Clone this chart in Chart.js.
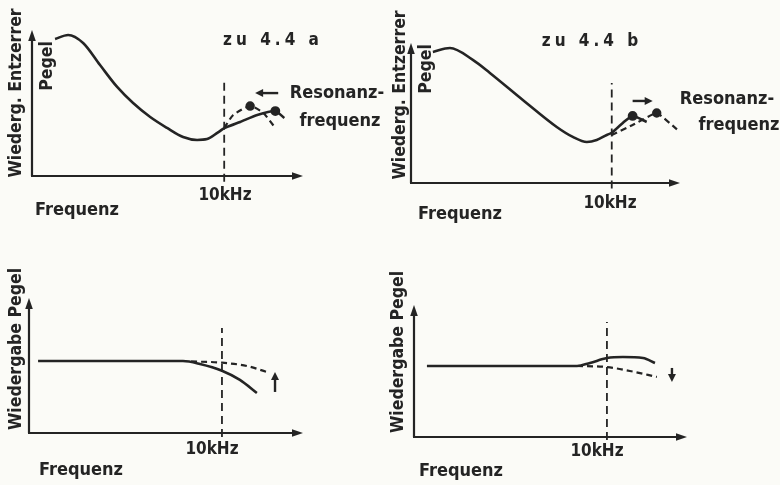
<!DOCTYPE html>
<html>
<head>
<meta charset="utf-8">
<script src="https://cdn.jsdelivr.net/npm/chart.js@4.4.1/dist/chart.umd.min.js"></script>
<style>
  body { margin: 0; background: #fbfbf7; }
  #wrap { position: relative; width: 780px; height: 485px; overflow: hidden; }
  canvas { position: absolute; }
  .t {
    position: absolute; transform: translate(-50%, -50%); white-space: nowrap; color: #242424;
    font-family: "DejaVu Sans Condensed", "Liberation Sans Narrow", "DejaVu Sans", sans-serif;
    font-stretch: condensed; font-weight: bold; font-size: 18px; line-height: 1;
  }
  .r { transform: translate(-50%, -50%) rotate(-90deg); font-size: 17.5px; }
  .k { font-size: 17px; }
  .z { font-size: 17px; letter-spacing: 4px; }
</style>
</head>
<body>
<div id="wrap">
  <canvas id="cA" width="390" height="243" style="left:0;top:0"></canvas>
  <canvas id="cB" width="390" height="243" style="left:390px;top:0"></canvas>
  <canvas id="cC" width="390" height="242" style="left:0;top:243px"></canvas>
  <canvas id="cD" width="390" height="242" style="left:390px;top:243px"></canvas>

  <div class="t z" style="left:273px;top:39px">zu 4.4 a</div>
  <div class="t" style="left:337px;top:92px">Resonanz-</div>
  <div class="t" style="left:340px;top:120px">frequenz</div>
  <div class="t k" style="left:225px;top:194px">10kHz</div>
  <div class="t" style="left:77px;top:209px">Frequenz</div>
  <div class="t r" style="left:16px;top:93px">Wiederg. Entzerrer</div>
  <div class="t r" style="left:47px;top:66px">Pegel</div>

  <div class="t z" style="left:592px;top:40px">zu 4.4 b</div>
  <div class="t" style="left:727px;top:98px">Resonanz-</div>
  <div class="t" style="left:739px;top:124px">frequenz</div>
  <div class="t k" style="left:610px;top:202px">10kHz</div>
  <div class="t" style="left:460px;top:213px">Frequenz</div>
  <div class="t r" style="left:400px;top:95px">Wiederg. Entzerrer</div>
  <div class="t r" style="left:426px;top:69px">Pegel</div>

  <div class="t k" style="left:212px;top:448px">10kHz</div>
  <div class="t" style="left:81px;top:469px">Frequenz</div>
  <div class="t r" style="left:16px;top:349px">Wiedergabe Pegel</div>

  <div class="t k" style="left:597px;top:450px">10kHz</div>
  <div class="t" style="left:461px;top:470px">Frequenz</div>
  <div class="t r" style="left:398px;top:352px">Wiedergabe Pegel</div>
</div>

<script>
const INK = "#242424";

// zu 4.4 a : Entzerrer-Kurve, Resonanz wandert nach unten
const aMainX = [1.2, 1.88, 2.66, 3.54, 4.43, 5.26, 6.15, 7.03, 7.86, 8.59, 9.11, 9.64, 10];
const aMainY = [93.8, 96.6, 91.1, 76.0, 61.0, 50.0, 40.4, 32.9, 26.7, 24.7, 25.3, 29.5, 32.9];
const aSolidX = [10, 10.83, 11.72, 12.66, 13.13];
const aSolidY = [32.9, 37.0, 41.8, 44.5, 39.7];
const aDashX = [10, 10.47, 11.35, 12.03, 12.66];
const aDashY = [32.9, 41.8, 47.9, 43.2, 32.9];
const aArrow = [12.81, 56.8, 11.61, 56.8];

// zu 4.4 b : Resonanz wandert nach oben
const bMainX = [1.09, 1.94, 3.08, 3.93, 5.57, 7.26, 8.06, 8.76, 9.25, 9.75, 10];
const bMainY = [93.6, 96.4, 87.9, 78.6, 59.3, 40.0, 32.9, 29.3, 30.7, 34.3, 35.7];
const bSolidX = [10, 10.55, 11.04, 11.74];
const bSolidY = [35.7, 42.9, 47.9, 43.6];
const bDashX = [10, 11.04, 12.24, 13.28];
const bDashY = [34.3, 41.4, 50.0, 37.9];
const bArrow = [11.04, 58.6, 12.04, 58.6];

// Wiedergabe a
const cSolidX = [0.47, 7.98, 8.86, 10, 10.93, 11.81];
const cSolidY = [53.3, 53.3, 51.1, 46.1, 39.3, 29.6];
const cDashX = [8.4, 10, 11.3, 12.33];
const cDashY = [53.0, 52.1, 49.6, 45.2];
const cArrow = [12.75, 30.4, 12.75, 45.2];

// Wiedergabe b
const dSolidX = [0.67, 8.45, 9.12, 10, 10.83, 11.87, 12.49];
const dSolidY = [53.8, 53.8, 56.1, 59.8, 60.6, 59.8, 56.1];
const dDashX = [8.45, 10, 11.19, 12.59];
const dDashY = [53.8, 53.0, 50.0, 45.5];
const dArrow = [13.37, 52.3, 13.37, 41.7];

// 10 kHz marker: [x, bottom, top]
const markA = [10, -4, 67];
const markB = [10, -4, 71.4];
const markC = [10, -3, 77.8];
const markD = [10, -2.3, 87.1];

function pts(xs, ys) {
  return xs.map((x, i) => ({ x: x, y: ys[i] }));
}

function head(ctx, x, y, dx, dy, len, w) {
  ctx.beginPath();
  ctx.moveTo(x, y);
  ctx.lineTo(x - dx * len - dy * w, y - dy * len + dx * w);
  ctx.lineTo(x - dx * len + dy * w, y - dy * len - dx * w);
  ctx.closePath();
  ctx.fill();
}

// axes with arrow heads + small annotation arrows
const axesArrows = {
  id: "axesArrows",
  afterDatasetsDraw(chart, args, opts) {
    const ctx = chart.ctx;
    const a = chart.chartArea;
    const sx = chart.scales.x, sy = chart.scales.y;
    ctx.save();
    ctx.strokeStyle = INK;
    ctx.fillStyle = INK;
    ctx.lineWidth = 2.2;
    ctx.beginPath();
    ctx.moveTo(a.left, a.bottom);
    ctx.lineTo(a.left, a.top + 6);
    ctx.moveTo(a.left - 1, a.bottom);
    ctx.lineTo(a.right - 6, a.bottom);
    ctx.stroke();
    head(ctx, a.left, a.top, 0, -1, 11, 3.8);
    head(ctx, a.right, a.bottom, 1, 0, 11, 3.8);

    const ar = opts.arrow;
    if (ar) {
      const x1 = sx.getPixelForValue(ar[0]), y1 = sy.getPixelForValue(ar[1]);
      const x2 = sx.getPixelForValue(ar[2]), y2 = sy.getPixelForValue(ar[3]);
      const l = Math.hypot(x2 - x1, y2 - y1);
      const dx = (x2 - x1) / l, dy = (y2 - y1) / l;
      ctx.lineWidth = 2.4;
      ctx.beginPath();
      ctx.moveTo(x1, y1);
      ctx.lineTo(x2 - dx * 5, y2 - dy * 5);
      ctx.stroke();
      head(ctx, x2, y2, dx, dy, 8, 4);
    }
    ctx.restore();
  }
};

function solid(data, extra) {
  return Object.assign({
    data: data, borderColor: INK, backgroundColor: INK, borderWidth: 2.6,
    pointRadius: 0, fill: false, clip: false, cubicInterpolationMode: "monotone"
  }, extra || {});
}

function dashed(data, extra) {
  return solid(data, Object.assign({ borderDash: [6, 4], borderWidth: 2.2 }, extra || {}));
}

function marker(m) {
  return {
    data: [{ x: m[0], y: m[1] }, { x: m[0], y: m[2] }],
    borderColor: INK, borderWidth: 1.8, borderDash: [8, 5], pointRadius: 0, clip: false
  };
}

function dots(n, i) {
  return Array.from({ length: n }, (_, k) => (k === i ? 3.6 : 0));
}

function makeChart(id, datasets, xMax, pad, arrow) {
  new Chart(id, {
    type: "line",
    data: { datasets: datasets },
    options: {
      responsive: false,
      animation: false,
      events: [],
      layout: { padding: pad },
      scales: {
        x: { type: "linear", min: 0, max: xMax, display: false },
        y: { min: 0, max: 100, display: false }
      },
      plugins: {
        legend: { display: false },
        tooltip: { enabled: false },
        axesArrows: { arrow: arrow }
      }
    },
    plugins: [axesArrows]
  });
}

makeChart("cA", [
  marker(markA),
  solid(pts(aMainX, aMainY)),
  solid(pts(aSolidX, aSolidY), { cubicInterpolationMode: "default", tension: 0.2, pointRadius: dots(aSolidX.length, 3) }),
  dashed(pts(aDashX, aDashY), { cubicInterpolationMode: "default", tension: 0.2, pointRadius: dots(aDashX.length, 2) })
], 14.1, { left: 32, right: 87, top: 30, bottom: 67 }, aArrow);

makeChart("cB", [
  marker(markB),
  solid(pts(bMainX, bMainY)),
  solid(pts(bSolidX, bSolidY), { cubicInterpolationMode: "default", tension: 0.2, pointRadius: dots(bSolidX.length, 2) }),
  dashed(pts(bDashX, bDashY), { cubicInterpolationMode: "default", tension: 0.1, pointRadius: dots(bDashX.length, 2) })
], 13.4, { left: 21, right: 100, top: 43, bottom: 60 }, bArrow);

makeChart("cC", [
  marker(markC),
  solid(pts(cSolidX, cSolidY)),
  dashed(pts(cDashX, cDashY))
], 14.2, { left: 29, right: 87, top: 55, bottom: 52 }, cArrow);

makeChart("cD", [
  marker(markD),
  solid(pts(dSolidX, dSolidY)),
  dashed(pts(dDashX, dDashY))
], 14.15, { left: 24, right: 93, top: 62, bottom: 48 }, dArrow);
</script>
</body>
</html>
